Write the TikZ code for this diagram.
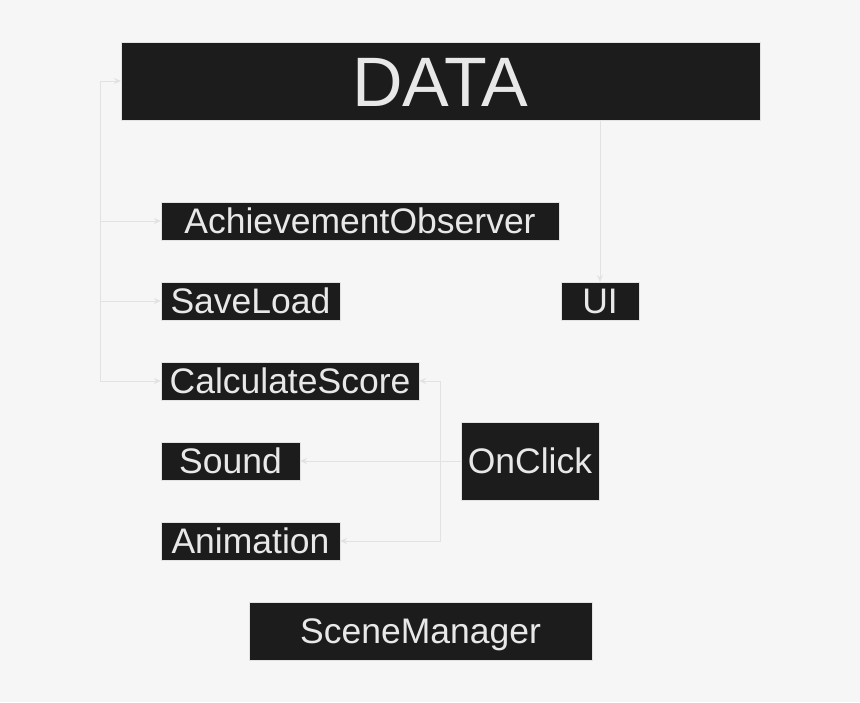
\documentclass[tikz,border=0pt]{standalone}
\usepackage{fontspec}
\setmainfont{Liberation Sans}
\newcommand*{\boxfont}{\fontsize{35.5}{40}\selectfont}
\newcommand*{\titlefont}{\fontsize{70}{80}\selectfont}
\definecolor{paper}{HTML}{F6F6F6}
\definecolor{box}{HTML}{1C1C1C}
\definecolor{ink}{HTML}{E8E8E8}
\definecolor{edge}{HTML}{E2E2E2}
\definecolor{wire}{HTML}{E2E2E2}
\usetikzlibrary{arrows.meta}
\tikzstyle{base}=[x=1pt, y=-1pt, inner sep=0pt, outer sep=0pt]
\tikzstyle{block}=[draw=edge, line width=0.5pt, fill=box, text=ink, font=\boxfont, text height=25.4pt, text depth=0pt]
\tikzstyle{link}=[draw=wire, line width=1pt, -{Stealth[length=7pt, width=6pt]}]

\begin{document}
\begin{tikzpicture}[base]
    \fill [paper] (0,0) rectangle (860,702);
    \path [use as bounding box] (0,0) rectangle (860,702);
    % boxes
    \node [block, font=\titlefont, text height=50pt, minimum width=639pt, minimum height=78pt] (data) at (440.5,81) {DATA};
    \node [block, minimum width=398pt, minimum height=38pt] (achieve) at (360,221) {AchievementObserver};
    \node [block, minimum width=179pt, minimum height=38pt] (saveload) at (250.5,301) {SaveLoad};
    \node [block, minimum width=78pt, minimum height=38pt] (ui) at (600,301) {UI};
    \node [block, minimum width=258pt, minimum height=38pt] (score) at (290,381) {CalculateScore};
    \node [block, minimum width=139pt, minimum height=38pt] (sound) at (230.5,461) {Sound};
    \node [block, minimum width=138pt, minimum height=78pt] (onclick) at (530,461) {OnClick};
    \node [block, minimum width=179pt, minimum height=38pt] (anim) at (250.5,541) {Animation};
    \node [block, minimum width=343pt, minimum height=58pt] (scene) at (420.5,631) {SceneManager};
    % left bus
    \coordinate (bus) at (100,0);
    \draw [link] (score.west -| bus) |- (data.west);
    \draw [link] (achieve.west -| bus) -- (achieve.west);
    \draw [link] (saveload.west -| bus) -- (saveload.west);
    \draw [link] (score.west -| bus) -- (score.west);
    % data to ui
    \draw [link] (data.south -| ui.north) -- (ui.north);
    % onclick
    \coordinate (fork) at (440,461);
    \draw [link] (onclick.west) -- (sound.east);
    \draw [link] (fork) |- (score.east);
    \draw [link] (fork) |- (anim.east);
\end{tikzpicture}
\end{document}
